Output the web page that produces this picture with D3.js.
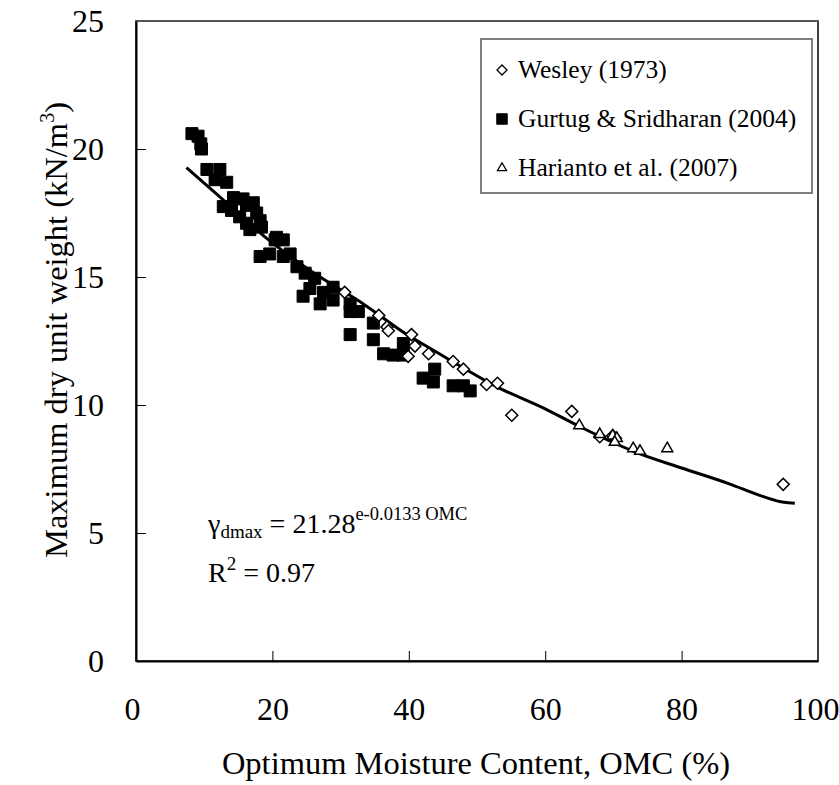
<!DOCTYPE html>
<html>
<head>
<meta charset="utf-8">
<script src="https://cdn.jsdelivr.net/npm/d3@7/dist/d3.min.js"></script>
<style>
  html, body { margin: 0; padding: 0; background: #fff; }
  svg { display: block; }
  svg text { font-family: "Liberation Serif", "Times New Roman", Tinos, "DejaVu Serif", serif !important; fill: #000; }
</style>
</head>
<body>
<svg id="chart" width="839" height="785"></svg>
<script>
// ---- Data ----
const seriesNames = ["Wesley (1973)", "Gurtug & Sridharan (2004)", "Harianto et al. (2007)"];

const wesleyOMC = [30.6, 35.6, 36.8, 37.0, 39.9, 40.4, 40.9, 42.9, 46.5, 48.0, 51.4, 53.0, 55.1, 63.9, 68.0, 69.9, 70.3, 94.9];
const wesleyGd  = [14.4, 13.5, 13.05, 12.9, 11.9, 12.75, 12.3, 12.0, 11.7, 11.4, 10.8, 10.85, 9.6, 9.75, 8.76, 8.8, 8.7, 6.9];

const gurtugOMC = [8.2, 9.1, 9.5, 9.6, 10.4, 12.3, 11.6, 13.3, 12.8, 14.3, 14.0, 15.7, 16.2, 17.2, 17.7, 15.2, 16.2, 16.7, 18.2, 18.4,
                   20.6, 20.4, 21.6, 18.2, 19.6, 21.6, 22.6, 23.6, 24.8, 26.2, 25.5, 24.5, 27.0, 27.5, 28.9, 28.9, 31.4, 31.4, 32.6, 31.4,
                   34.8, 34.8, 36.3, 37.7, 39.2, 39.2, 42.1, 43.6, 43.8, 46.5, 48.0, 49.0];
const gurtugGd  = [20.6, 20.5, 20.2, 20.0, 19.2, 19.2, 18.8, 18.7, 17.75, 18.1, 17.6, 18.05, 17.8, 17.9, 17.5, 17.35, 17.1, 16.85, 17.2, 16.95,
                   16.55, 16.45, 16.45, 15.8, 15.9, 15.8, 15.9, 15.4, 15.15, 14.95, 14.55, 14.25, 13.95, 14.4, 14.6, 14.1, 13.95, 13.65, 13.65, 12.75,
                   13.2, 12.55, 12.0, 11.95, 11.95, 12.4, 11.05, 10.9, 11.4, 10.75, 10.75, 10.55];

const hariantoOMC = [65.0, 68.0, 69.9, 70.5, 70.2, 72.9, 73.9, 77.9];
const hariantoGd  = [9.2, 8.85, 8.8, 8.7, 8.55, 8.3, 8.2, 8.3];

// fitted trend line
const fitOMC = [7.4, 12, 18.9, 25, 33.6, 40, 43.1, 46, 52.9, 60, 65.1, 73.9, 80, 87, 92, 95, 96.6];
const fitGd  = [19.27, 18.2, 16.57, 15.35, 13.9, 12.7, 12.22, 11.76, 10.71, 9.85, 9.15, 8.09, 7.54, 6.92, 6.42, 6.2, 6.16];

const xTicks = [0, 20, 40, 60, 80, 100];
const yTicks = [0, 5, 10, 15, 20, 25];

const FONT = '"Liberation Serif", "Times New Roman", Tinos, "DejaVu Serif", serif';

// ---- Layout ----
const svg = d3.select("#chart").attr("font-family", FONT);
const L = 136, R = 818, T = 21, B = 661;
const x = d3.scaleLinear().domain([0, 100]).range([L, R]);
const y = d3.scaleLinear().domain([0, 25]).range([B, T]);

// frame
svg.append("rect").attr("x", L).attr("y", T).attr("width", R - L).attr("height", B - T)
  .attr("fill", "none").attr("stroke", "#000").attr("stroke-width", 1.5);
svg.append("line").attr("x1", L).attr("x2", R).attr("y1", T).attr("y2", T)
  .attr("stroke", "#555").attr("stroke-width", 2);

// axes
const xAxis = d3.axisBottom(x).tickValues(xTicks).tickFormat(d3.format("d"))
  .tickSizeInner(-10).tickSizeOuter(0).tickPadding(36);
const gx = svg.append("g").attr("transform", `translate(0,${B})`).call(xAxis);
const yAxis = d3.axisLeft(y).tickValues(yTicks).tickFormat(d3.format("d"))
  .tickSizeInner(-10).tickSizeOuter(0).tickPadding(32);
const gy = svg.append("g").attr("transform", `translate(${L},0)`).call(yAxis);
[gx, gy].forEach(g => {
  g.attr("font-family", FONT).attr("font-size", 32);
  g.select(".domain").attr("stroke", "#000").attr("stroke-width", 2);
  g.selectAll(".tick line").attr("stroke", "#000").attr("stroke-width", 1);
  g.selectAll(".tick text").attr("font-size", 32).attr("fill", "#000");
});
gx.selectAll(".tick").filter(d => d === 100 || d === 0).select("line").remove();
gx.selectAll(".tick").filter(d => d === 100).select("text").attr("dx", -3);
gx.selectAll(".tick").filter(d => d === 0).select("text").attr("dx", -4);
gy.selectAll(".tick").filter(d => d === 25 || d === 0).select("line").remove();

// axis titles
svg.append("text").attr("x", (L + R) / 2 - 1).attr("y", 774).attr("text-anchor", "middle")
  .attr("font-size", 32.5).text("Optimum Moisture Content, OMC (%)");
const yt = svg.append("text").attr("transform", "translate(67,330) rotate(-90)")
  .attr("text-anchor", "middle").attr("font-size", 32.5);
yt.append("tspan").text("Maximum dry unit weight (kN/m");
yt.append("tspan").attr("font-size", 20).attr("dy", -13).text("3");
yt.append("tspan").attr("dy", 13).text(")");

// trend line
const line = d3.line().x(d => x(d[0])).y(d => y(d[1])).curve(d3.curveMonotoneX);
svg.append("path").datum(d3.zip(fitOMC, fitGd)).attr("d", line)
  .attr("fill", "none").attr("stroke", "#000").attr("stroke-width", 3);

// markers
const sq = d3.symbol().type(d3.symbolSquare).size(144);
const dia = d3.symbol().type(d3.symbolSquare).size(72);
const tri = d3.symbol().type(d3.symbolTriangle).size(52);

svg.append("g").selectAll("path").data(d3.zip(gurtugOMC, gurtugGd)).join("path")
  .attr("d", sq).attr("transform", d => `translate(${x(d[0])},${y(d[1])})`)
  .attr("fill", "#000").attr("stroke", "#000").attr("stroke-width", 1);

svg.append("g").selectAll("path").data(d3.zip(wesleyOMC, wesleyGd)).join("path")
  .attr("d", dia).attr("transform", d => `translate(${x(d[0])},${y(d[1])}) rotate(45)`)
  .attr("fill", "#fff").attr("stroke", "#000").attr("stroke-width", 1.5);

svg.append("g").selectAll("path").data(d3.zip(hariantoOMC, hariantoGd)).join("path")
  .attr("d", tri).attr("transform", d => `translate(${x(d[0])},${y(d[1])})`)
  .attr("fill", "#fff").attr("stroke", "#000").attr("stroke-width", 1.5);

// equation
const eq = svg.append("text").attr("x", 208).attr("y", 533).attr("font-size", 28);
eq.append("tspan").text("γ");
eq.append("tspan").attr("font-size", 19).attr("dy", 5).text("dmax");
eq.append("tspan").attr("dy", -5).text(" = 21.28");
eq.append("tspan").attr("font-size", 18.5).attr("dy", -13).text("e-0.0133 OMC");
const r2 = svg.append("text").attr("x", 208).attr("y", 582).attr("font-size", 28);
r2.append("tspan").text("R");
r2.append("tspan").attr("font-size", 19).attr("dy", -12).text("2");
r2.append("tspan").attr("dy", 12).text(" = 0.97");

// legend
const lg = svg.append("g");
lg.append("rect").attr("x", 481).attr("y", 39).attr("width", 331).attr("height", 154)
  .attr("fill", "#fff").attr("stroke", "#808080").attr("stroke-width", 2);
const legY = [78, 127, 176];
const legSym = [
  d3.symbol().type(d3.symbolSquare).size(50),
  d3.symbol().type(d3.symbolSquare).size(110),
  d3.symbol().type(d3.symbolTriangle).size(36)
];
seriesNames.forEach((name, i) => {
  const cy = legY[i] - 8;
  lg.append("path").attr("d", legSym[i])
    .attr("transform", `translate(502,${cy})` + (i === 0 ? " rotate(45)" : ""))
    .attr("fill", i === 1 ? "#000" : "#fff").attr("stroke", "#000").attr("stroke-width", i === 1 ? 1 : 1.3);
  lg.append("text").attr("x", 518).attr("y", legY[i]).attr("font-size", 25.5).text(name);
});
</script>
</body>
</html>
